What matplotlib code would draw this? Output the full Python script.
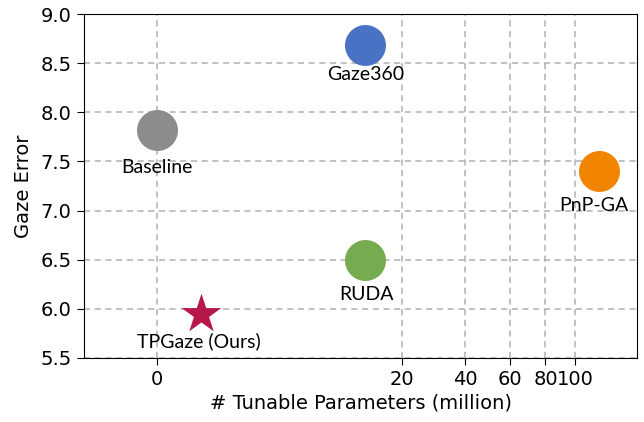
import numpy as np
import matplotlib
matplotlib.use("Agg")
import matplotlib.pyplot as plt

# ---- datos ----
METHODS = ["Baseline", "Gaze360", "RUDA", "PnP-GA", "TPGaze (Ours)"]
PARAMS = [0.0, 12.3, 12.3, 118.0, 0.11]       # millones
GAZE_ERR = [7.82, 8.69, 6.50, 7.40, 5.95]
COLORS = ["#8c8c8c", "#4a72c4", "#77ab4f", "#f28500", "#b8174a"]
MARKERS = ["o", "o", "o", "o", "*"]
LABEL_DX = [0, 0, 1, -4, -1]                  # offsets de etiqueta (pt)
LABEL_DY = [-20.5, -15.5, -19, -18.5, -13.5]

X_TICKS = [0, 20, 40, 60, 80, 100]
Y_TICKS = [5.5, 6.0, 6.5, 7.0, 7.5, 8.0, 8.5, 9.0]

fig = plt.figure(figsize=(6.44, 4.22), dpi=100)
ax = fig.add_axes([84 / 644, 1 - 357.7 / 422, (637 - 84) / 644, (357.7 - 14.3) / 422])

# escala raiz cubica en x
ax.set_xscale("function", functions=(np.cbrt, lambda v: v ** 3))
ax.set_xlim(-0.54, 151)
ax.set_ylim(5.5, 9.0)
ax.set_xticks(X_TICKS)
ax.set_xticklabels([str(t) for t in X_TICKS])
ax.set_yticks(Y_TICKS)
ax.minorticks_off()
ax.tick_params(labelsize=14, length=5, pad=4)

ax.grid(True, ls=(0, (4, 3)), color="#b0b0b0", lw=1.1)
ax.set_axisbelow(True)

for name, x, y, c, m, dx, dy in zip(METHODS, PARAMS, GAZE_ERR, COLORS, MARKERS, LABEL_DX, LABEL_DY):
    ax.scatter([x], [y], s=900 if m == "*" else 870, c=c, marker=m, zorder=3,
               linewidths=0)
    ax.annotate(name, (x, y), xytext=(dx, dy), textcoords="offset points",
                ha="center", va="top", fontsize=14, family=["Lato", "DejaVu Sans"])

ax.set_xlabel("# Tunable Parameters (million)", fontsize=14, labelpad=3)
ax.set_ylabel("Gaze Error", fontsize=14, labelpad=5)

fig.savefig("out.png", dpi=100)
